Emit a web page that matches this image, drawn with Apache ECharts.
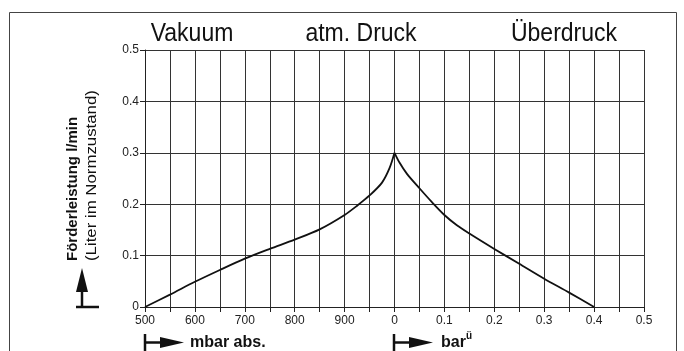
<!DOCTYPE html>
<html>
<head>
<meta charset="utf-8">
<script src="https://cdn.jsdelivr.net/npm/echarts@6/dist/echarts.min.js"></script>
<style>
  html, body { margin: 0; padding: 0; background: #fff; }
  #main { width: 684px; height: 351px; }
</style>
</head>
<body>
<div id="main"></div>
<script>
// Vakuumbereich: Druck in mbar abs.
var vacMbar = [500, 550, 600, 650, 700, 750, 800, 850, 900, 925, 950, 975, 990, 1000];
var vacFlow = [0, 0.024, 0.049, 0.072, 0.094, 0.113, 0.131, 0.151, 0.179, 0.197, 0.217, 0.242, 0.27, 0.3];
// Überdruckbereich: Druck in bar ü
var overBar = [0, 0.01, 0.025, 0.05, 0.075, 0.1, 0.125, 0.15, 0.2, 0.25, 0.3, 0.35, 0.4];
var overFlow = [0.3, 0.281, 0.259, 0.231, 0.204, 0.179, 0.159, 0.143, 0.113, 0.084, 0.055, 0.028, 0];
var regionTitles = ['Vakuum', 'atm. Druck', 'Überdruck'];

var sans = "'Liberation Sans', Arial, sans-serif";

// bar ü -> mbar abs. (gemeinsame Achse)
var vacData = vacMbar.map(function (p, i) { return [p, vacFlow[i]]; });
var overData = overBar.map(function (b, i) { return [1000 + b * 1000, overFlow[i]]; });

var myChart = echarts.init(document.getElementById('main'));

var lineStyle = { color: '#111', width: 1.8 };

function title(txt, x) {
  return { type: 'text', x: x, y: 34, scaleX: 0.92, originX: 0, originY: 0,
    style: { text: txt, fontFamily: sans, fontSize: 25, fill: '#111', align: 'center', verticalAlign: 'middle' } };
}

myChart.setOption({
  animation: false,
  backgroundColor: '#fff',
  grid: { left: 145, right: 40, top: 50, bottom: 44 },
  xAxis: {
    type: 'value',
    min: 500,
    max: 1500,
    interval: 50,
    axisLine: { lineStyle: { color: '#222', width: 1 } },
    axisTick: { show: true, length: 5, lineStyle: { color: '#222' } },
    splitLine: { show: true, lineStyle: { color: '#333', width: 1 } },
    axisLabel: {
      color: '#222',
      fontFamily: sans,
      fontSize: 12,
      margin: 8,
      formatter: function (v) {
        if (v % 100 !== 0) return '';
        if (v < 1000) return String(v);
        return String((v - 1000) / 1000);
      }
    }
  },
  yAxis: {
    type: 'value',
    min: 0,
    max: 0.5,
    interval: 0.1,
    axisLine: { show: true, lineStyle: { color: '#222', width: 1 } },
    axisTick: { show: true, length: 5, lineStyle: { color: '#222' } },
    splitLine: { show: true, lineStyle: { color: '#333', width: 1 } },
    axisLabel: {
      color: '#222',
      fontFamily: sans,
      fontSize: 12,
      margin: 6,
      formatter: function (v) { return v === 0 ? '0' : v.toFixed(1); }
    }
  },
  series: [
    {
      type: 'line',
      data: vacData,
      smooth: 0.3,
      showSymbol: false,
      lineStyle: lineStyle
    },
    {
      type: 'line',
      data: overData,
      smooth: 0.3,
      showSymbol: false,
      lineStyle: lineStyle
    }
  ],
  graphic: [
    // Rahmen
    { type: 'rect', shape: { x: 9.5, y: 12.5, width: 667, height: 400 },
      style: { fill: null, stroke: '#444', lineWidth: 1 } },
    // Bereichstitel
    title(regionTitles[0], 192),
    title(regionTitles[1], 361),
    title(regionTitles[2], 564),
    // Y-Achsentitel
    { type: 'text', x: 73, y: 261, rotation: Math.PI / 2,
      style: { text: 'Förderleistung l/min', fontFamily: sans, fontWeight: 'bold', fontSize: 15, fill: '#111', align: 'left', verticalAlign: 'middle' } },
    { type: 'text', x: 92, y: 261, rotation: Math.PI / 2, scaleX: 1.12,
      style: { text: '(Liter im Normzustand)', fontFamily: sans, fontSize: 15, fill: '#111', align: 'left', verticalAlign: 'middle' } },
    // Pfeil nach oben
    { type: 'polygon', shape: { points: [[82, 268], [76, 292], [88, 292]] }, style: { fill: '#111' } },
    { type: 'line', shape: { x1: 82, y1: 290, x2: 82, y2: 307 }, style: { stroke: '#111', lineWidth: 2.5 } },
    { type: 'line', shape: { x1: 76, y1: 307, x2: 99, y2: 307 }, style: { stroke: '#111', lineWidth: 2.5 } },
    // Pfeil mbar abs.
    { type: 'line', shape: { x1: 145, y1: 334, x2: 145, y2: 351 }, style: { stroke: '#111', lineWidth: 2.5 } },
    { type: 'line', shape: { x1: 145, y1: 342.5, x2: 162, y2: 342.5 }, style: { stroke: '#111', lineWidth: 2.5 } },
    { type: 'polygon', shape: { points: [[160, 337], [184, 342.5], [160, 348]] }, style: { fill: '#111' } },
    { type: 'text', x: 190, y: 343, style: { text: 'mbar abs.', fontFamily: sans, fontWeight: 'bold', fontSize: 16, fill: '#111', align: 'left', verticalAlign: 'middle' } },
    // Pfeil bar ü
    { type: 'line', shape: { x1: 394, y1: 334, x2: 394, y2: 351 }, style: { stroke: '#111', lineWidth: 2.5 } },
    { type: 'line', shape: { x1: 394, y1: 342.5, x2: 411, y2: 342.5 }, style: { stroke: '#111', lineWidth: 2.5 } },
    { type: 'polygon', shape: { points: [[409, 337], [433, 342.5], [409, 348]] }, style: { fill: '#111' } },
    { type: 'text', x: 441, y: 343, style: { text: 'bar', fontFamily: sans, fontWeight: 'bold', fontSize: 16, fill: '#111', align: 'left', verticalAlign: 'middle' } },
    { type: 'text', x: 466, y: 336, style: { text: 'ü', fontFamily: sans, fontWeight: 'bold', fontSize: 10, fill: '#111', align: 'left', verticalAlign: 'middle' } }
  ]
});
</script>
</body>
</html>
